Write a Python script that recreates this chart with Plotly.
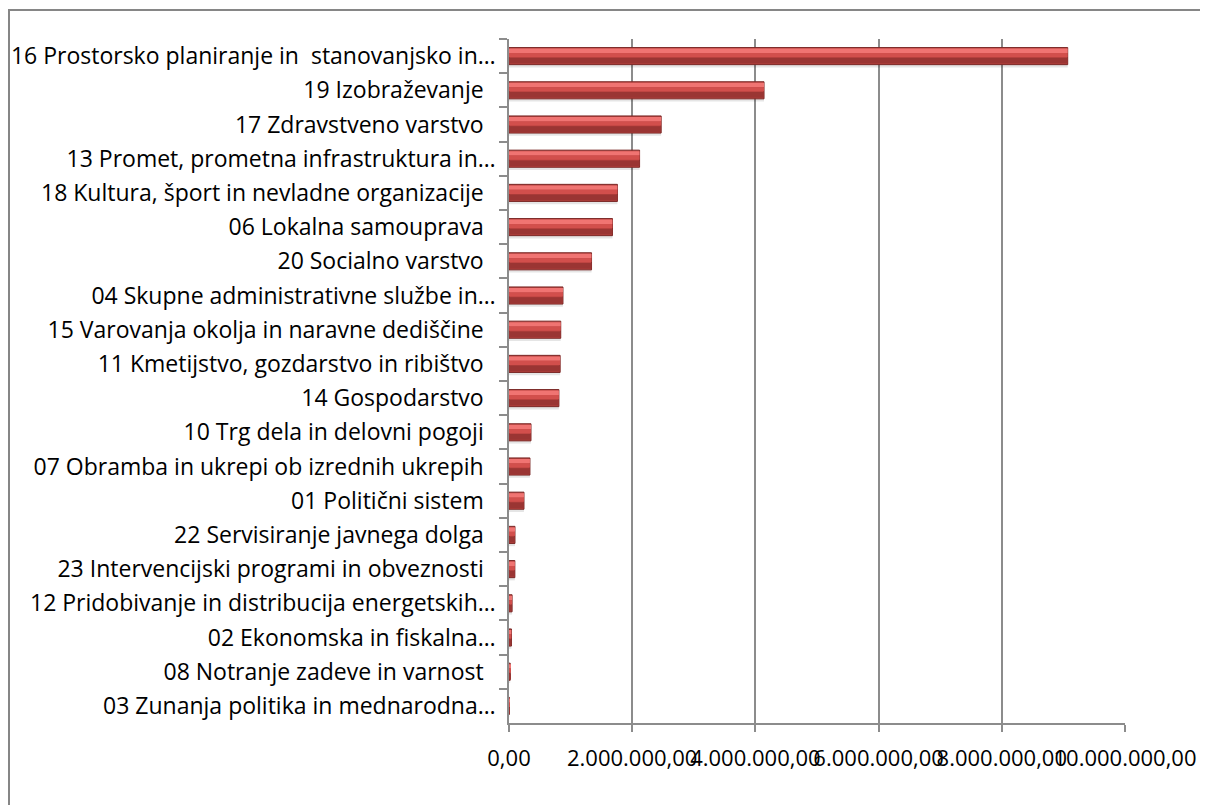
import plotly.graph_objects as go

categories = [
    "16 Prostorsko planiranje in\u00a0 stanovanjsko in…",
    "19 Izobraževanje",
    "17 Zdravstveno varstvo",
    "13 Promet, prometna infrastruktura in…",
    "18 Kultura, šport in nevladne organizacije",
    "06 Lokalna samouprava",
    "20 Socialno varstvo",
    "04 Skupne administrativne službe in…",
    "15 Varovanja okolja in naravne dediščine",
    "11 Kmetijstvo, gozdarstvo in ribištvo",
    "14 Gospodarstvo",
    "10 Trg dela in delovni pogoji",
    "07 Obramba in ukrepi ob izrednih ukrepih",
    "01 Politični sistem",
    "22 Servisiranje javnega dolga",
    "23 Intervencijski programi in obveznosti",
    "12 Pridobivanje in distribucija energetskih…",
    "02 Ekonomska in fiskalna…",
    "08 Notranje zadeve in varnost",
    "03 Zunanja politika in mednarodna…",
]
values = [
    9070000, 4140000, 2470000, 2120000, 1760000, 1680000, 1340000,
    876000, 840000, 830000, 810000, 357000, 340000, 243000,
    97000, 95000, 50000, 40000, 20000, 5000,
]
tick_vals = [0, 2000000, 4000000, 6000000, 8000000, 10000000]
tick_text = ["0,00", "2.000.000,00", "4.000.000,00", "6.000.000,00", "8.000.000,00", "10.000.000,00"]

labels = [c if c.endswith("…") else c + "\u00a0\u00a0" for c in categories]

fig = go.Figure()
# soft shadow
fig.add_trace(go.Bar(y=labels, x=values, orientation="h", width=0.5, offset=-0.17,
                     marker=dict(color="rgba(0,0,0,0.10)", line=dict(width=0)), hoverinfo="skip"))
# base bar
fig.add_trace(go.Bar(y=labels, x=values, orientation="h", width=0.5, offset=-0.25,
                     marker=dict(color="#B8423F", line=dict(color="#7A2826", width=1))))
# highlight strips
fig.add_trace(go.Bar(y=labels, x=values, orientation="h", width=0.13, offset=-0.22,
                     marker=dict(color="#F07472", line=dict(width=0)), hoverinfo="skip"))
fig.add_trace(go.Bar(y=labels, x=values, orientation="h", width=0.12, offset=-0.09,
                     marker=dict(color="#D24F4C", line=dict(width=0)), hoverinfo="skip"))
fig.add_trace(go.Bar(y=labels, x=values, orientation="h", width=0.17, offset=0.05,
                     marker=dict(color="#9A3533", line=dict(width=0)), hoverinfo="skip"))

fig.update_layout(
    width=1200, height=797,
    margin=dict(l=501, r=83, t=31, b=82),
    paper_bgcolor="white", plot_bgcolor="white",
    barmode="overlay", showlegend=False,
    font=dict(family="Open Sans, Lato, sans-serif", size=22, color="#000000"),
    xaxis=dict(range=[0, 10000000], tickvals=tick_vals, ticktext=tick_text, tickangle=0,
               showgrid=True, gridcolor="#8C8C8C", gridwidth=1.5,
               showline=True, linecolor="#8C8C8C", linewidth=1.5,
               ticks="outside", ticklen=7, tickcolor="#8C8C8C", tickwidth=1.5,
               ticklabelstandoff=8, zeroline=False, fixedrange=True, automargin=False),
    yaxis=dict(autorange="reversed", showline=True, linecolor="#8C8C8C", linewidth=1.5,
               ticks="outside", ticklen=8, tickcolor="#8C8C8C", tickwidth=1.5,
               tickson="boundaries", showgrid=False, ticklabelstandoff=7,
               tickfont=dict(size=23), automargin=False),
    shapes=[dict(type="rect", xref="paper", yref="paper",
                 x0=(1 - 501) / 616, x1=1.3, y0=-0.3, y1=(715 - 2) / 684,
                 line=dict(color="#868686", width=2), fillcolor="rgba(0,0,0,0)", layer="below")],
)
fig.write_html("out.html")
